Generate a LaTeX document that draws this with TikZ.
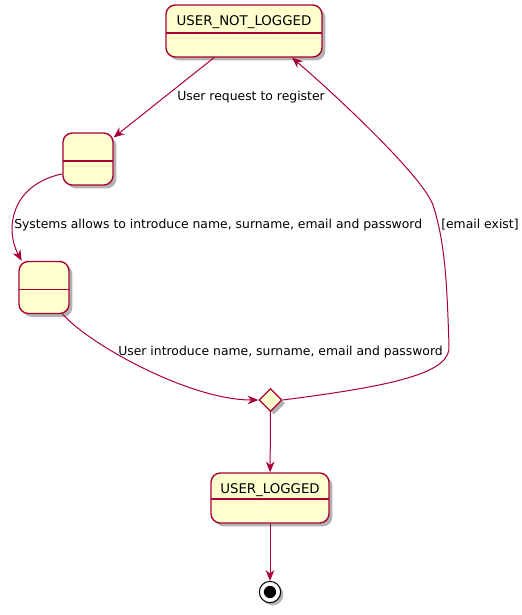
\documentclass[tikz,border=0pt]{standalone}
\usepackage{fontspec}
\setmainfont{DejaVu Sans}
\usetikzlibrary{positioning}
\usetikzlibrary{arrows.meta}
\usetikzlibrary{shapes.geometric}
\usetikzlibrary{shadows}
\definecolor{umlred}{HTML}{A80036}
\definecolor{umlfill}{HTML}{FEFECE}

\begin{document}
\begin{tikzpicture}[x=0.75pt,y=-0.75pt,
    state/.style={rectangle,rounded corners=7pt,draw=umlred,fill=umlfill,line width=1pt,
      inner sep=0pt,text height=15pt,text depth=24pt,font=\fontsize{10}{12}\selectfont,
      drop shadow={shadow xshift=2.5pt,shadow yshift=-2.5pt,opacity=0.3,fill=black},
      path picture={\draw[umlred,line width=1pt] ([yshift=18pt]path picture bounding box.south west) -- ([yshift=18pt]path picture bounding box.south east);}},
    choice/.style={diamond,draw=umlred,fill=umlfill,line width=1pt,inner sep=0pt,
      minimum width=17.25pt,minimum height=17.25pt,
      drop shadow={shadow xshift=2.5pt,shadow yshift=-2.5pt,opacity=0.3,fill=black}},
    final/.style={circle,draw=black,fill=white,line width=0.8pt,minimum size=16pt,inner sep=0pt,
      drop shadow={shadow xshift=2pt,shadow yshift=-2pt,opacity=0.3,fill=black}},
    trans/.style={draw=umlred,line width=0.75pt,-{Stealth[length=8pt,width=6.5pt,inset=2.5pt]}},
    lbl/.style={font=\fontsize{9.3}{11}\selectfont,anchor=west,inner sep=0pt}]
  \useasboundingbox (0,0) rectangle (522,615);
  \node[state,minimum width=117pt] (unl) at (244,31) {USER\_NOT\_LOGGED};
  \node[state,minimum width=37.5pt] (reg) at (88,159) {};
  \node[state,minimum width=37.5pt] (form) at (44,287.5) {};
  \node[choice] (chk) at (270.5,400) {};
  \node[state,minimum width=88.5pt,text depth=22.5pt] (ul) at (270,498) {USER\_LOGGED};
  \node[final] (fin) at (270,592) {};
  \fill (fin) circle (4.6pt);
  \node[lbl] (l1) at (177,97) {User request to register};
  \node[lbl] (l2) at (14,225) {Systems allows to introduce name, surname, email and password};
  \node[lbl] (l3) at (118,352) {User introduce name, surname, email and password};
  \node[lbl] (l4) at (441,225) {[email exist]};
  \draw[trans] ([xshift=-22.5pt]unl.south) -- (reg.40);
  \draw[trans] (reg.210) .. controls (10,185) and (5,230) .. (form.130);
  \draw[trans] (form.-55) .. controls (90,345) and (190,400) .. (chk.west);
  \draw[trans] (chk.east) .. controls (400,385) and (452,372) .. (449,345)
    .. controls (447,290) and (446,245) .. (433,205)
    .. controls (422,175) and (330,90) .. ([xshift=36pt]unl.south);
  \draw[trans] (chk) -- (ul);
  \draw[trans] (ul) -- (fin);
\end{tikzpicture}
\end{document}
